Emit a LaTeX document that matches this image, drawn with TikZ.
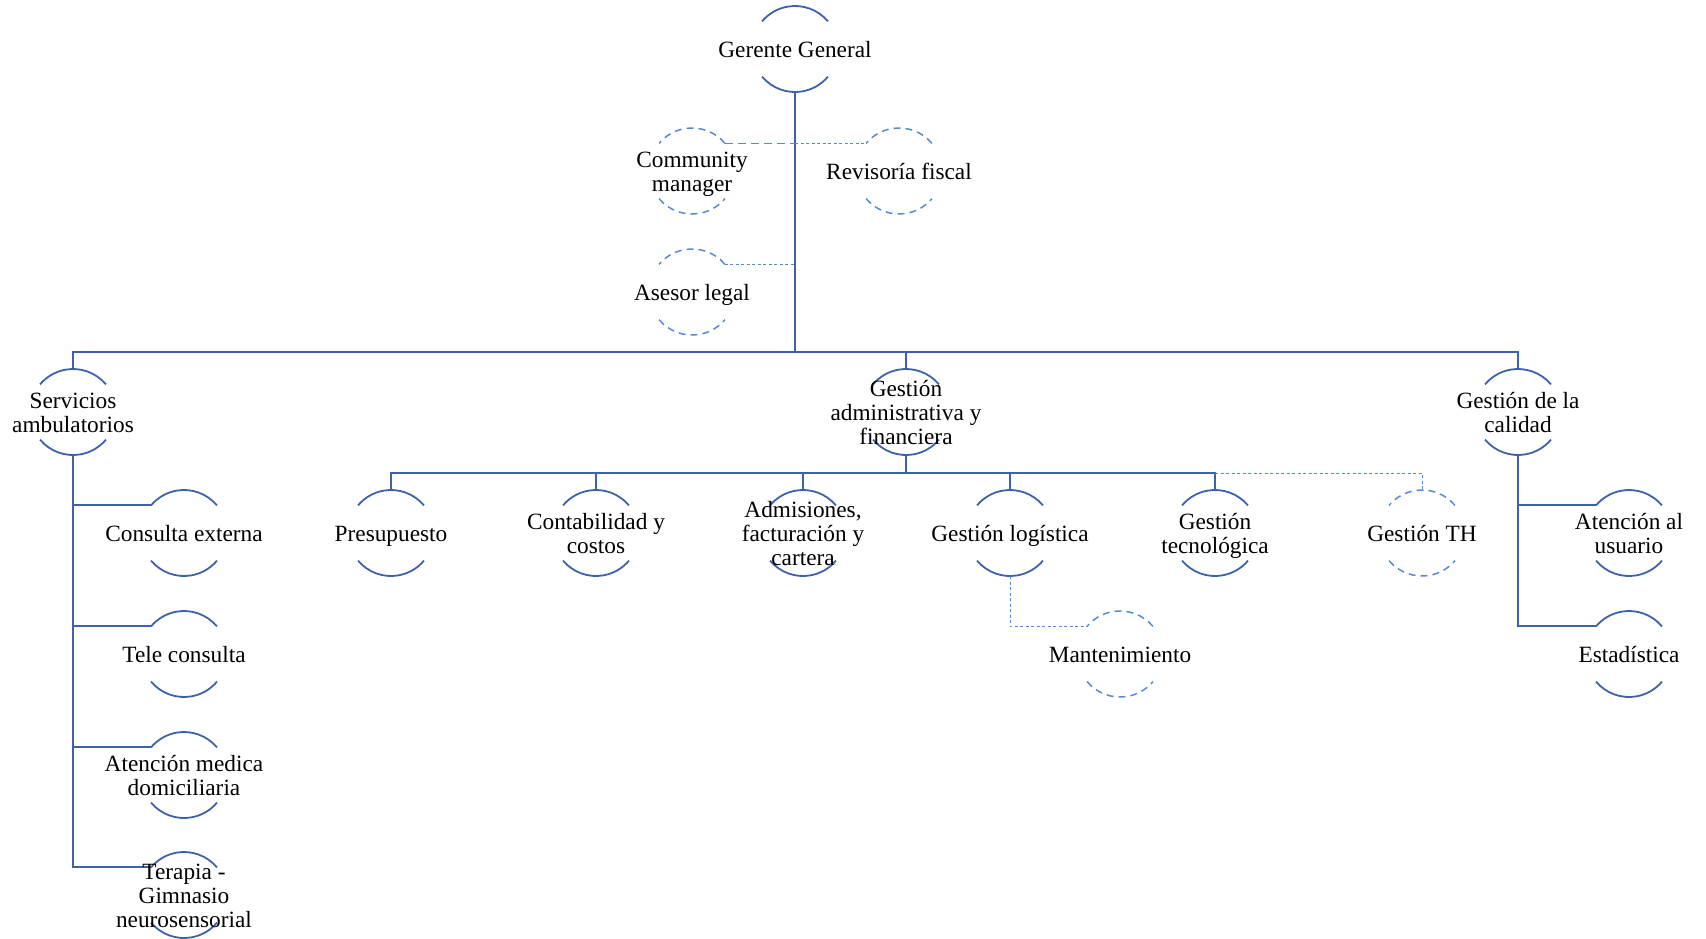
\documentclass[tikz,border=0pt]{standalone}
\usepackage{fontspec}
\setmainfont{Liberation Serif}
\definecolor{orgblue}{RGB}{61,97,170}
\definecolor{optblue}{RGB}{86,138,214}
% font-metric struts: full ascent on the first line, full descent on the last
\newcommand\ascstrut{\rule{0pt}{0.891em}}
\newcommand\descstrut{\rule[-0.216em]{0pt}{0.216em}}
\begin{document}
\begin{tikzpicture}[x=1pt,y=-1pt,
  unit/.style={circle,minimum size=86pt,inner sep=0pt,outer sep=0pt},
  lbl/.style={align=center,font=\fontsize{23.3}{24}\selectfont,inner sep=0pt,text=black,
              yshift=-1.1pt,
              execute at begin node=\ascstrut,execute at end node=\descstrut},
  ml/.style={yshift=-2.1pt},
  mainarc/.style={draw=orgblue,line width=1.8pt},
  optarc/.style={draw=optblue,line width=1.5pt,dash pattern=on 7pt off 5pt},
  link/.style={draw=orgblue,line width=1.8pt},
  optlink/.style={draw=optblue,line width=1pt,dash pattern=on 3pt off 2.5pt},
  dashlink/.style={draw=optblue,line width=1.5pt,dash pattern=on 8pt off 5pt}]

\useasboundingbox (0,0) rectangle (1706,938);

% unit placeholders (circles of radius 43pt)
\node[unit] (gg)  at (795,49)  {};
\node[unit] (cm)  at (692,171) {};
\node[unit] (rf)  at (899,171) {};
\node[unit] (al)  at (692,292) {};
\node[unit] (sa)  at (73,412)  {};
\node[unit] (gaf) at (906,412) {};
\node[unit] (gc)  at (1518,412) {};
\node[unit] (pre) at (391,533) {};
\node[unit] (con) at (596,533) {};
\node[unit] (adm) at (803,533) {};
\node[unit] (glo) at (1010,533) {};
\node[unit] (gte) at (1215,533) {};
\node[unit] (gth) at (1422,533) {};
\node[unit] (man) at (1120,654) {};
\node[unit] (ce)  at (184,533) {};
\node[unit] (tc)  at (184,654) {};
\node[unit] (amd) at (184,775) {};
\node[unit] (ter) at (184,895) {};
\node[unit] (au)  at (1629,533) {};
\node[unit] (est) at (1629,654) {};

\coordinate (b1) at (0,352);
\coordinate (b2) at (0,473);

% open arcs above and below each unit
\foreach \n in {gg,sa,gaf,gc,pre,con,adm,glo,gte,ce,tc,amd,ter,au,est}
  \draw[mainarc] (\n.40) arc[start angle=40,end angle=140,radius=43pt]
                 (\n.220) arc[start angle=220,end angle=320,radius=43pt];
\foreach \n in {cm,rf,al,gth,man}
  \draw[optarc] (\n.40) arc[start angle=40,end angle=140,radius=43pt]
                (\n.220) arc[start angle=220,end angle=320,radius=43pt];

% main hierarchy
\draw[link] (gg.south) -- (gg |- b1);
\draw[link] (sa.north) -- (sa |- b1) -- (gc |- b1) -- (gc.north);
\draw[link] (gaf |- b1) -- (gaf.north);

% advisory staff
\draw[dashlink] (cm.40) -- (gg |- cm.40);
\draw[optlink] (gg |- rf.140) -- (rf.140);
\draw[optlink] (al.40) -- (gg |- al.40);

% administrative and financial area
\draw[link] (gaf.south) -- (gaf |- b2);
\draw[link] (pre.north) -- (pre |- b2) -- (gte |- b2) -- (gte.north);
\foreach \n in {con,adm,glo}
  \draw[link] (\n |- b2) -- (\n.north);
\draw[optlink] (gte |- b2) -- (gth |- b2) -- (gth.north);
\draw[optlink] (glo.south) -- (glo |- man.140) -- (man.140);

% outpatient services
\draw[link] (sa.south) -- (sa |- ter.140) -- (ter.140);
\foreach \n in {ce,tc,amd}
  \draw[link] (sa |- \n.140) -- (\n.140);

% quality management
\draw[link] (gc.south) -- (gc |- est.140) -- (est.140);
\draw[link] (gc |- au.140) -- (au.140);

% labels
\node[lbl]    (gg-t)  at (gg)  {Gerente General};
\node[lbl,ml] (cm-t)  at (cm)  {Community\\manager};
\node[lbl]    (rf-t)  at (rf)  {Revisoría fiscal};
\node[lbl]    (al-t)  at (al)  {Asesor legal};
\node[lbl,ml] (sa-t)  at (sa)  {Servicios\\ambulatorios};
\node[lbl,ml] (gaf-t) at (gaf) {Gestión\\administrativa y\\financiera};
\node[lbl,ml] (gc-t)  at (gc)  {Gestión de la\\calidad};
\node[lbl]    (pre-t) at (pre) {Presupuesto};
\node[lbl,ml] (con-t) at (con) {Contabilidad y\\costos};
\node[lbl,ml] (adm-t) at (adm) {Admisiones,\\facturación y\\cartera};
\node[lbl]    (glo-t) at (glo) {Gestión logística};
\node[lbl,ml] (gte-t) at (gte) {Gestión\\tecnológica};
\node[lbl]    (gth-t) at (gth) {Gestión TH};
\node[lbl]    (man-t) at (man) {Mantenimiento};
\node[lbl]    (ce-t)  at (ce)  {Consulta externa};
\node[lbl]    (tc-t)  at (tc)  {Tele consulta};
\node[lbl,ml] (amd-t) at (amd) {Atención medica\\domiciliaria};
\node[lbl,ml] (ter-t) at (ter) {Terapia -\\Gimnasio\\neurosensorial};
\node[lbl,ml] (au-t)  at (au)  {Atención al\\usuario};
\node[lbl]    (est-t) at (est) {Estadística};
\end{tikzpicture}
\end{document}
